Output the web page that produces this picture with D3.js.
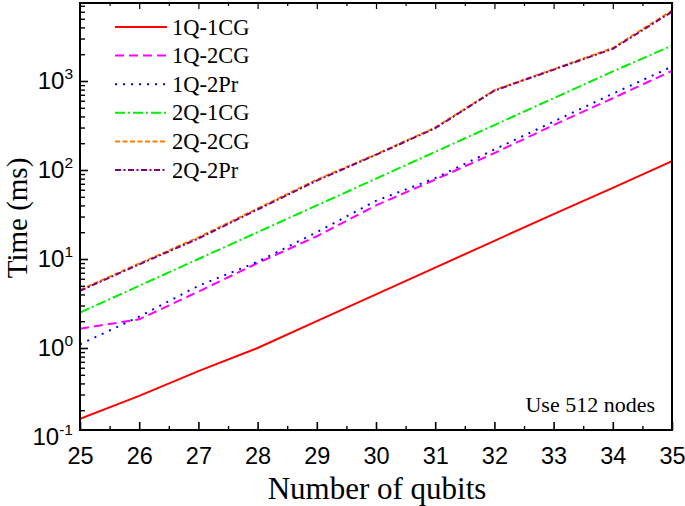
<!DOCTYPE html>
<html><head><meta charset="utf-8">
<script src="https://cdn.jsdelivr.net/npm/d3@7"></script>
<style>body{margin:0;background:#fff}svg{display:block}</style></head>
<body>
<svg id="c" width="685" height="506"></svg>
<script>
const qubits = [25, 26, 27, 28, 29, 30, 31, 32, 33, 34, 35];
const s1Q1CG = [0.16, 0.29, 0.55, 1.0, 2.0, 4.0, 8.0, 16, 32, 63, 126];
const s1Q2CG = [1.65, 2.1, 4.3, 9.0, 18, 40, 78, 155, 320, 640, 1300];
const s1Q2Pr = [1.1, 2.25, 5.0, 9.3, 20, 45, 81, 170, 350, 720, 1450];
const s2Q1CG = [2.5, 5.0, 10, 20, 40, 80, 160, 320, 640, 1280, 2500];
const s2Q2CG = [4.5, 8.9, 17.5, 37, 78, 150, 300, 790, 1360, 2350, 6200];
const s2Q2Pr = [4.4, 8.7, 17, 36, 76, 148, 295, 780, 1340, 2300, 6000];
const seriesNames = ["1Q-1CG", "1Q-2CG", "1Q-2Pr", "2Q-1CG", "2Q-2CG", "2Q-2Pr"];
const xTickLabels = ["25","26","27","28","29","30","31","32","33","34","35"];
const yTickExponents = [-1, 0, 1, 2, 3];

const seriesValues = [s1Q1CG, s1Q2CG, s1Q2Pr, s2Q1CG, s2Q2CG, s2Q2Pr];
const colors = ["#ff0000", "#ff00ff", "#0000ff", "#00ee00", "#ff8000", "#800080"];
const dashes = ["none", "9,5", "2,6", "10,3,2,3", "5,2.5", "6,2.5,2,2.5"];

const L = 80, R = 672, T = 3, B = 430;
const svg = d3.select("#c");
const x = d3.scaleLinear().domain([25, 35]).range([L, R]);
const y = d3.scaleLog().domain([0.1, 1e4]).range([437, 437 - 5 * 89]);

svg.append("defs").append("clipPath").attr("id", "clip")
  .append("rect").attr("x", L).attr("y", T).attr("width", R - L).attr("height", B - T);

// lines
const line = d3.line().x((d, i) => x(qubits[i])).y(d => y(d));
const g = svg.append("g").attr("clip-path", "url(#clip)");
seriesValues.forEach((vals, i) => {
  g.append("path").datum(vals).attr("d", line)
    .attr("fill", "none").attr("stroke", colors[i]).attr("stroke-width", 2)
    .attr("stroke-dasharray", dashes[i] === "none" ? null : dashes[i]);
});

// frame
svg.append("rect").attr("x", L).attr("y", T).attr("width", R - L).attr("height", B - T)
  .attr("fill", "none").attr("stroke", "#000").attr("stroke-width", 2);

// x ticks (inward), bottom and top
const xMinor = d3.range(25.5, 35, 1);
const xAxisB = svg.append("g").attr("transform", `translate(0,${B})`)
  .call(d3.axisBottom(x).tickValues(qubits).tickSize(-8).tickPadding(17)
    .tickFormat((d, i) => xTickLabels[i]));
xAxisB.select(".domain").remove();
xAxisB.selectAll("line").attr("stroke-width", 1.6);
xAxisB.selectAll("text").attr("font-family", "Liberation Sans, Arial, sans-serif")
  .attr("font-size", 23.5).attr("fill", "#000");
const xAxisBm = svg.append("g").attr("transform", `translate(0,${B})`)
  .call(d3.axisBottom(x).tickValues(xMinor).tickSize(-4).tickFormat(""));
xAxisBm.select(".domain").remove();
xAxisBm.selectAll("line").attr("stroke-width", 1.4);
const xAxisT = svg.append("g").attr("transform", `translate(0,${T})`)
  .call(d3.axisTop(x).tickValues(qubits).tickSize(-6).tickFormat(""));
xAxisT.select(".domain").remove();
xAxisT.selectAll("line").attr("stroke-width", 1.2);
const xAxisTm = svg.append("g").attr("transform", `translate(0,${T})`)
  .call(d3.axisTop(x).tickValues(xMinor).tickSize(-3).tickFormat(""));
xAxisTm.select(".domain").remove();
xAxisTm.selectAll("line").attr("stroke-width", 1.2);

// y ticks
const yMajor = yTickExponents.map(e => Math.pow(10, e)).filter(v => y(v) >= T - 0.5 && y(v) <= B + 0.5);
const yMinor = [];
yTickExponents.concat([4]).forEach(e => {
  for (let k = 2; k <= 9; k++) {
    const v = k * Math.pow(10, e);
    if (y(v) >= T + 1 && y(v) <= B - 1) yMinor.push(v);
  }
});
const yAxis = svg.append("g").attr("transform", `translate(${L},0)`)
  .call(d3.axisLeft(y).tickValues(yMajor).tickSize(-8).tickPadding(0).tickFormat(""));
yAxis.select(".domain").remove();
yAxis.selectAll("line").attr("stroke-width", 1.6);
const yAxisM = svg.append("g").attr("transform", `translate(${L},0)`)
  .call(d3.axisLeft(y).tickValues(yMinor).tickSize(-5).tickFormat(""));
yAxisM.select(".domain").remove();
yAxisM.selectAll("line").attr("stroke-width", 1.4);

// y tick labels 10^n
yTickExponents.forEach(e => {
  const t = svg.append("text").attr("x", 73).attr("y", y(Math.pow(10, e)) + 8)
    .attr("text-anchor", "end").attr("font-family", "Liberation Sans, Arial, sans-serif")
    .attr("font-size", 24).attr("fill", "#000");
  t.append("tspan").text("10");
  t.append("tspan").attr("dy", -10).attr("font-size", 15.5).text(String(e));
});

// axis titles
svg.append("text").attr("x", (L + R) / 2 + 1).attr("y", 499).attr("text-anchor", "middle")
  .attr("font-family", "Liberation Serif, Times New Roman, serif").attr("font-size", 31)
  .attr("fill", "#000").text("Number of qubits");
svg.append("text").attr("transform", `translate(27,${218}) rotate(-90)`)
  .attr("text-anchor", "middle")
  .attr("font-family", "Liberation Serif, Times New Roman, serif").attr("font-size", 29)
  .attr("fill", "#000").text("Time (ms)");

// annotation
svg.append("text").attr("x", 655).attr("y", 412).attr("text-anchor", "end")
  .attr("font-family", "Liberation Serif, Times New Roman, serif").attr("font-size", 22)
  .attr("fill", "#000").text("Use 512 nodes");

// legend
seriesNames.forEach((name, i) => {
  const ly = 27 + i * 28.6;
  svg.append("line").attr("x1", 115).attr("x2", 167).attr("y1", ly).attr("y2", ly)
    .attr("stroke", colors[i]).attr("stroke-width", 2)
    .attr("stroke-dasharray", dashes[i] === "none" ? null : dashes[i]);
  svg.append("text").attr("x", 172).attr("y", ly + 7.5)
    .attr("font-family", "Liberation Serif, Times New Roman, serif").attr("font-size", 22.5)
    .attr("fill", "#000").text(name);
});
</script>
</body></html>
